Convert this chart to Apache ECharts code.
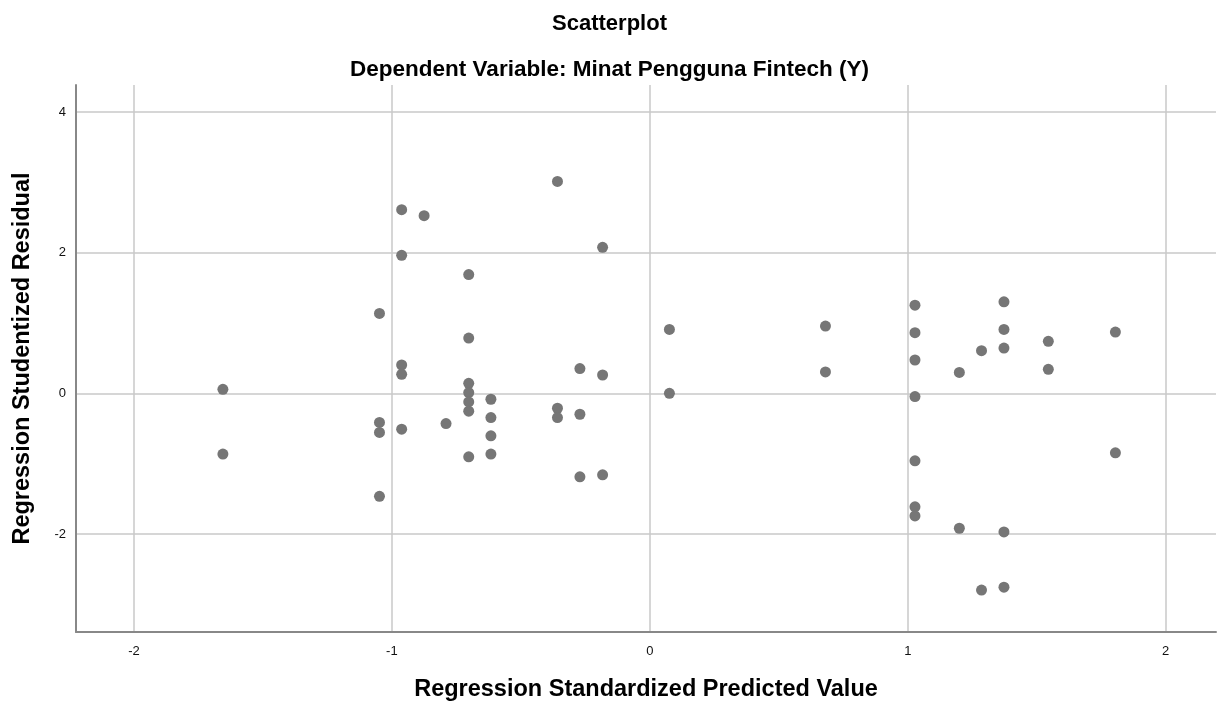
<!DOCTYPE html>
<html>
<head>
<meta charset="utf-8">
<title>Scatterplot</title>
<script src="https://cdn.jsdelivr.net/npm/echarts@6/dist/echarts.min.js"></script>
<style>
    html, body {margin: 0; padding: 0; background: #fff;}
    #scatter {width: 1219px; height: 707px;}
</style>
</head>
<body>
<div id="scatter"></div>
<script>
// Regression Standardized Predicted Value
var predicted = [
    -1.655, -1.655,
    -1.048, -1.048, -1.048, -1.048,
    -0.962, -0.962, -0.962, -0.962, -0.962,
    -0.875, -0.790,
    -0.702, -0.702, -0.702, -0.702, -0.702, -0.702, -0.702,
    -0.616, -0.616, -0.616, -0.616,
    -0.358, -0.358, -0.358,
    -0.271, -0.271, -0.271,
    -0.183, -0.183, -0.183,
    0.076, 0.076,
    0.681, 0.681,
    1.028, 1.028, 1.028, 1.028, 1.028, 1.028, 1.028,
    1.200, 1.200,
    1.286, 1.286,
    1.373, 1.373, 1.373, 1.373, 1.373,
    1.545, 1.545,
    1.805, 1.805
];
// Regression Studentized Residual
var residual = [
    0.061, -0.861,
    1.139, -0.411, -0.553, -1.461,
    2.614, 1.966, 0.406, 0.274, -0.506,
    2.529, -0.426,
    1.692, 0.789, 0.146, 0.014, -0.119, -0.251, -0.899,
    -0.081, -0.341, -0.601, -0.861,
    3.016, -0.209, -0.341,
    0.355, -0.294, -1.183,
    2.080, 0.264, -1.155,
    0.912, 0.004,
    0.959, 0.307,
    1.257, 0.865, 0.477, -0.043, -0.956, -1.610, -1.740,
    0.300, -1.915,
    0.610, -2.794,
    1.305, 0.912, 0.647, -1.967, -2.752,
    0.742, 0.345,
    0.874, -0.843
];
var titleText = 'Scatterplot';
var subtitleText = 'Dependent Variable: Minat Pengguna Fintech (Y)';
var xName = 'Regression Standardized Predicted Value';
var yName = 'Regression Studentized Residual';

var fontFam = "'Liberation Sans', Arial, sans-serif";

function intLabel(v) {
    return Math.abs(v - Math.round(v)) < 1e-6 ? String(Math.round(v)) : '';
}

function drawScatter() {
    var points = [];
    for (var i = 0; i < predicted.length; i++) {
        points.push([predicted[i], residual[i]]);
    }
    var option = {
        backgroundColor: '#fff',
        animation: false,
        title: [
            {
                text: titleText,
                left: 'center',
                top: 8,
                textStyle: {fontFamily: fontFam, fontSize: 22, fontWeight: 'bold', color: '#000'}
            },
            {
                text: subtitleText,
                left: 'center',
                top: 53,
                textStyle: {fontFamily: fontFam, fontSize: 22.5, fontWeight: 'bold', color: '#000'}
            }
        ],
        grid: {
            left: 76,
            right: 0,
            top: 85,
            bottom: 74
        },
        xAxis: {
            type: 'value',
            min: -2.2245,
            max: 2.195,
            minInterval: 1,
            maxInterval: 1,
            name: xName,
            nameLocation: 'middle',
            nameGap: 46,
            nameTextStyle: {fontFamily: fontFam, fontSize: 23.5, fontWeight: 'bold', color: '#000'},
            axisLine: {show: true, onZero: false, lineStyle: {color: '#888', width: 2}},
            axisTick: {show: false},
            axisLabel: {
                margin: 13,
                fontFamily: fontFam,
                fontSize: 13,
                color: '#111',
                formatter: intLabel
            },
            splitLine: {
                show: true,
                showMinLine: false,
                showMaxLine: false,
                lineStyle: {color: '#c8c8c8', width: 1.5}
            }
        },
        yAxis: {
            type: 'value',
            min: -3.39,
            max: 4.387,
            minInterval: 2,
            maxInterval: 2,
            name: yName,
            nameLocation: 'middle',
            nameGap: 41,
            nameTextStyle: {fontFamily: fontFam, fontSize: 23.5, fontWeight: 'bold', color: '#000'},
            axisLine: {show: true, onZero: false, lineStyle: {color: '#888', width: 2}},
            axisTick: {show: false},
            axisLabel: {
                margin: 10,
                fontFamily: fontFam,
                fontSize: 13,
                color: '#111',
                formatter: intLabel
            },
            splitLine: {
                show: true,
                showMinLine: false,
                showMaxLine: false,
                lineStyle: {color: '#c8c8c8', width: 1.5}
            }
        },
        series: [{
            type: 'scatter',
            data: points,
            symbolSize: 11,
            itemStyle: {color: '#767676', opacity: 1}
        }]
    };
    var myChart = echarts.init(document.getElementById('scatter'));
    myChart.setOption(option);
}

drawScatter();
</script>
</body>
</html>
